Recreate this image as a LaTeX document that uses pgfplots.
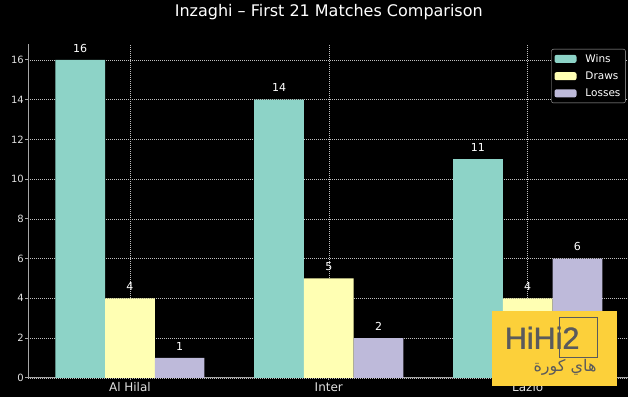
\documentclass[border=0pt]{standalone}
\usepackage{fontspec}
\setmainfont{DejaVu Sans}
\newfontfamily\arabicfont[Script=Arabic]{DejaVu Sans}
\newfontfamily\logofont[FakeBold=1.2]{Liberation Sans}
\TeXXeTstate=1
\usepackage{pgfplots}
\pgfplotsset{compat=1.18}
\definecolor{cwin}{HTML}{8DD3C7}
\definecolor{cdraw}{HTML}{FFFFB3}
\definecolor{closs}{HTML}{BEBADA}
\definecolor{wmyellow}{HTML}{FCD03A}
\definecolor{wmgray}{HTML}{5A5A5C}
\pgfplotstableread{
x y
-0.25 16
0.75 14
1.75 11
}\wins
\pgfplotstableread{
x y
0 4
1 5
2 4
}\draws
\pgfplotstableread{
x y
0.25 1
1.25 2
2.25 6
}\losses
\begin{document}
\begin{tikzpicture}[x=1pt,y=1pt]
\fill[black] (0,0) rectangle (628,397);
\begin{axis}[
  at={(28pt,19pt)}, anchor=south west, scale only axis,
  width=600pt, height=334pt,
  xmin=-0.5125, xmax=2.5025, ymin=0, ymax=16.8,
  axis x line=bottom, axis y line=left,
  axis line style={-, gray!70, line width=0.8pt},
  xtick={0,1,2}, xticklabels={Al Hilal, Inter, Lazio},
  ytick={0,2,...,16},
  tick align=outside, major tick length=2.5pt,
  tick style={gray!70, line width=0.8pt},
  grid=major, grid style={gray!50, dash pattern=on 1pt off 1pt, line width=0.4pt},
  ticklabel style={text=white!88!black},
  xticklabel style={font=\fontsize{12}{13}\selectfont, inner sep=2pt},
  yticklabel style={font=\fontsize{10}{12}\selectfont, inner sep=1.5pt},
  /pgf/number format/assume math mode=true,
  legend style={at={(0.9967,0.985)}, anchor=north east, fill=black, draw=gray!60,
    rounded corners=2pt, text=white, font=\fontsize{10.5}{12}\selectfont,
    inner xsep=3pt, inner ysep=3pt, row sep=4pt, column sep=7pt},
  legend cell align=left,
  nodes near coords style={text=white, font=\fontsize{11}{12}\selectfont, anchor=south, inner sep=1pt, yshift=6.5pt},
  clip=false,
]
\addplot[ybar, bar width=0.25, bar shift=0pt, fill=cwin, draw=none, nodes near coords,
  legend image code/.code={\fill[cwin] (0pt,-4pt) rectangle (22pt,4pt);}] table {\wins};
\addlegendentry{Wins}
\addplot[ybar, bar width=0.25, bar shift=0pt, fill=cdraw, draw=none, nodes near coords,
  legend image code/.code={\fill[cdraw] (0pt,-4pt) rectangle (22pt,4pt);}] table {\draws};
\addlegendentry{Draws}
\addplot[ybar, bar width=0.25, bar shift=0pt, fill=closs, draw=none, nodes near coords,
  legend image code/.code={\fill[closs] (0pt,-4pt) rectangle (22pt,4pt);}] table {\losses};
\addlegendentry{Losses}
\end{axis}
\node[anchor=base, text=white, font=\fontsize{16}{18}\selectfont] at (329,380) {Inzaghi – First 21 Matches Comparison};
% watermark
\fill[wmyellow] (492,11) rectangle (617,86);
\draw[wmgray, line width=1.3pt] (560,39) rectangle (598,79);
\node[anchor=base west, inner sep=0pt, text=wmgray, font=\logofont\fontsize{30.5}{32}\selectfont] at (505,48) {HiHi2};
\node[anchor=base east, inner sep=0pt, text=wmgray, font=\fontsize{16}{18}\selectfont] at (597,25) {\arabicfont\beginR هاي كورة\endR};
\end{tikzpicture}
\end{document}
